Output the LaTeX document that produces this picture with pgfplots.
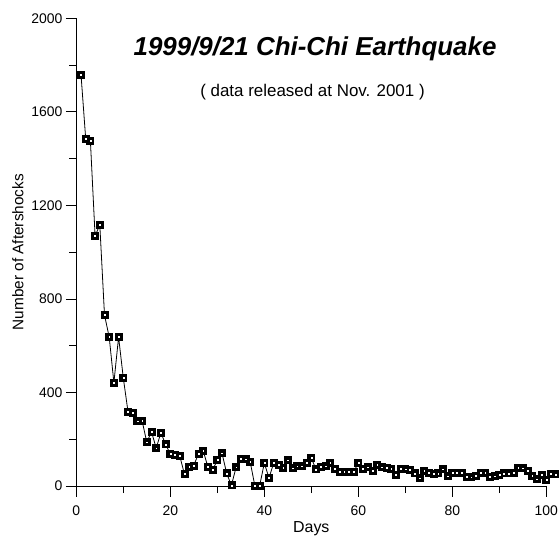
\documentclass[border=0pt]{standalone}
\usepackage{pgfplots}
\pgfplotsset{compat=1.18}
\usepackage{pgfplotstable}
\usepackage{fontspec}
\setmainfont{Liberation Sans}
\pgfplotstableread{
day val
1 1760
2 1485
3 1475
4 1069
5 1117
6 731
7 637
8 442
9 637
10 462
11 318
12 312
13 277
14 279
15 187
16 232
17 162
18 228
19 178
20 137
21 133
22 130
23 51
24 83
25 88
26 138
27 151
28 81
29 68
30 111
31 140
32 54
33 3
34 80
35 118
36 115
37 103
38 0
39 0
40 98
41 35
42 98
43 90
44 77
45 110
46 76
47 85
48 85
49 100
50 120
51 71
52 82
53 85
54 98
55 73
56 62
57 62
58 60
59 60
60 98
61 75
62 80
63 66
64 90
65 80
66 77
67 75
68 47
69 73
70 72
71 68
72 54
73 33
74 66
75 58
76 52
77 54
78 72
79 42
80 57
81 58
82 58
83 40
84 38
85 43
86 57
87 57
88 40
89 42
90 48
91 54
92 54
93 56
94 78
95 76
96 66
97 45
98 29
99 48
100 28
101 52
102 50
}\datatable
\begin{document}
\begin{tikzpicture}
\path[use as bounding box] (-76.3bp,-52bp) rectangle (482.7bp,486bp);
\begin{axis}[
  at={(0,0)}, anchor=south west,
  scale only axis,
  width=470bp, height=467.7bp,
  xmin=0, xmax=100, ymin=0, ymax=2000,
  clip=false,
  axis lines=left,
  axis line style={-, line width=0.8bp},
  xtick={0,20,40,60,80,100},
  ytick={0,400,800,1200,1600,2000},
  minor x tick num=1, minor y tick num=1,
  tick align=outside,
  major tick length=10.5bp, minor tick length=7bp,
  tick style={black, line width=0.8bp},
  /pgf/number format/assume math mode=true,
  /pgf/number format/1000 sep={},
  ticklabel style={font=\fontsize{14}{16}\selectfont},
  xticklabel style={yshift=-6bp},
  xlabel={Days},
  xlabel style={font=\fontsize{16}{18}\selectfont, yshift=1bp},
]
\addplot[black, line width=0.8bp, mark=square*, mark size=3.5bp,
  mark options={solid, fill=black, draw=black}] table[x=day, y=val] {\datatable};
\addplot[only marks, mark=square*, mark size=0.4bp,
  mark options={fill=white, draw=white}] table[x=day, y=val] {\datatable};
\node[rotate=90, font=\fontsize{15.4}{17}\selectfont] at ([xshift=-58.5bp]rel axis cs:0,0.5) {Number of Aftershocks};
\node[font=\fontsize{26}{29}\selectfont\bfseries\itshape] at (rel axis cs:0.508,0.934) {1999/9/21 Chi-Chi Earthquake};
\node[font=\fontsize{17}{20}\selectfont] at (rel axis cs:0.5026,0.843) {( data released at Nov. 2001 )};
\end{axis}
\end{tikzpicture}
\end{document}
